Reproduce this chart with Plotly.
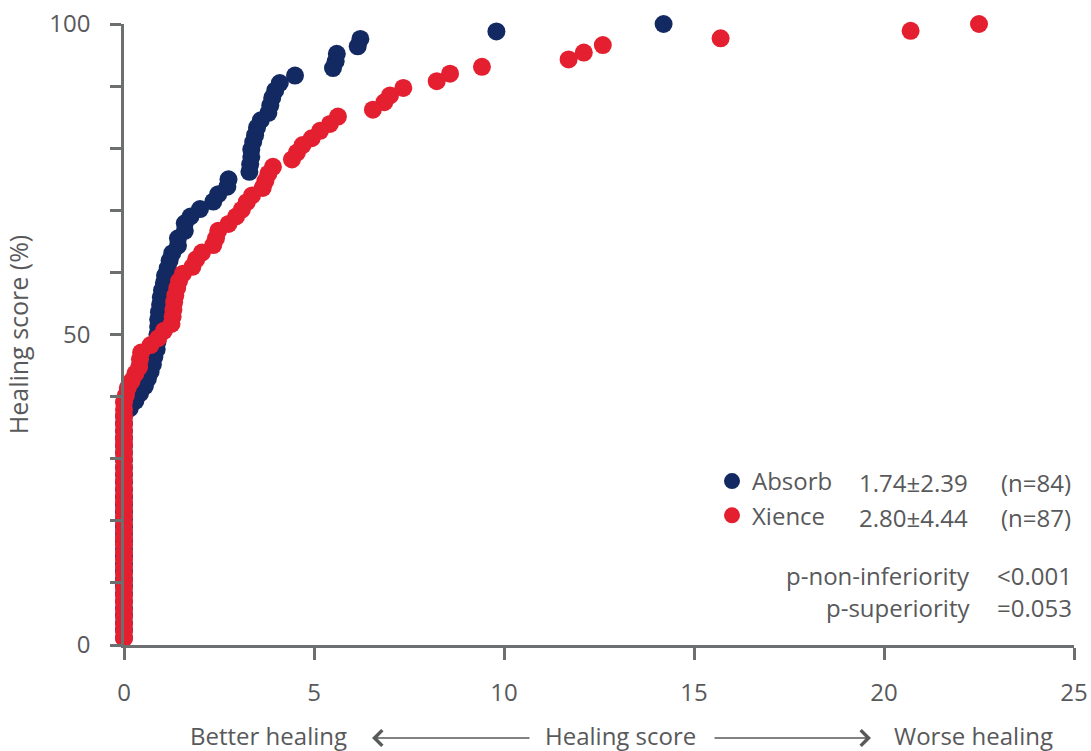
import plotly.graph_objects as go

# ---- data (rank order from the top of each curve) ----
absorb_x = [14.2, 9.8, 6.22, 6.15, 5.6, 5.57, 5.5, 4.5, 4.1, 3.98,
            3.9, 3.85, 3.8, 3.6, 3.5, 3.45, 3.4, 3.35, 3.35, 3.32,
            3.3, 2.75, 2.72, 2.48, 2.35, 2.0, 1.75, 1.6, 1.6, 1.42,
            1.42, 1.27, 1.2, 1.15, 1.08, 1.05, 1.0, 0.97, 0.95, 0.92,
            0.9, 0.9, 0.88, 0.88, 0.86, 0.8, 0.76, 0.7, 0.63, 0.55,
            0.42, 0.3, 0.15, 0, 0, 0, 0, 0, 0, 0,
            0, 0, 0, 0, 0, 0, 0, 0, 0, 0,
            0, 0, 0, 0, 0, 0, 0, 0, 0, 0,
            0, 0, 0, 0]
absorb_y = [100.0, 98.8, 97.6, 96.4, 95.2, 94.0, 92.9, 91.7, 90.5, 89.3,
            88.1, 86.9, 85.7, 84.5, 83.3, 82.1, 81.0, 79.8, 78.6, 77.4,
            76.2, 75.0, 73.8, 72.6, 71.4, 70.2, 69.0, 67.9, 66.7, 65.5,
            64.3, 63.1, 61.9, 60.7, 59.5, 58.3, 57.1, 56.0, 54.8, 53.6,
            52.4, 51.2, 50.0, 48.8, 47.6, 46.4, 45.2, 44.0, 42.9, 41.7,
            40.5, 39.3, 38.1, 36.9, 35.7, 34.5, 33.3, 32.1, 31.0, 29.8,
            28.6, 27.4, 26.2, 25.0, 23.8, 22.6, 21.4, 20.2, 19.0, 17.9,
            16.7, 15.5, 14.3, 13.1, 11.9, 10.7, 9.5, 8.3, 7.1, 6.0,
            4.8, 3.6, 2.4, 1.2]

xience_x = [22.5, 20.7, 15.7, 12.6, 12.1, 11.7, 9.42, 8.58, 8.23, 7.35,
            7.0, 6.85, 6.55, 5.63, 5.42, 5.16, 4.94, 4.7, 4.55, 4.42,
            3.92, 3.8, 3.72, 3.65, 3.37, 3.23, 3.1, 2.95, 2.75, 2.48,
            2.42, 2.35, 2.05, 1.9, 1.8, 1.55, 1.45, 1.4, 1.35, 1.32,
            1.3, 1.28, 1.25, 1.05, 0.9, 0.7, 0.45, 0.42, 0.4, 0.3,
            0.2, 0.1, 0.05, 0, 0, 0, 0, 0, 0, 0,
            0, 0, 0, 0, 0, 0, 0, 0, 0, 0,
            0, 0, 0, 0, 0, 0, 0, 0, 0, 0,
            0, 0, 0, 0, 0, 0, 0]
xience_y = [100.0, 98.9, 97.7, 96.6, 95.4, 94.3, 93.1, 92.0, 90.8, 89.7,
            88.5, 87.4, 86.2, 85.1, 83.9, 82.8, 81.6, 80.5, 79.3, 78.2,
            77.0, 75.9, 74.7, 73.6, 72.4, 71.3, 70.1, 69.0, 67.8, 66.7,
            65.5, 64.4, 63.2, 62.1, 60.9, 59.8, 58.6, 57.5, 56.3, 55.2,
            54.0, 52.9, 51.7, 50.6, 49.4, 48.3, 47.1, 46.0, 44.8, 43.7,
            42.5, 41.4, 40.2, 39.1, 37.9, 36.8, 35.6, 34.5, 33.3, 32.2,
            31.0, 29.9, 28.7, 27.6, 26.4, 25.3, 24.1, 23.0, 21.8, 20.7,
            19.5, 18.4, 17.2, 16.1, 14.9, 13.8, 12.6, 11.5, 10.3, 9.2,
            8.0, 6.9, 5.7, 4.6, 3.4, 2.3, 1.1]

series_names = ["Absorb", "Xience"]
series_stats = ["1.74\u00b12.39", "2.80\u00b14.44"]
series_n = ["(n=84)", "(n=87)"]
p_labels = ["p-non-inferiority", "p-superiority"]
p_values = ["<0.001", "=0.053"]

x_tickvals = [0, 5, 10, 15, 20, 25]
y_tickvals = [0, 10, 20, 30, 40, 50, 60, 70, 80, 90, 100]
y_ticktext = ["0", "", "", "", "", "50", "", "", "", "", "100"]

NAVY = "#122962"
RED = "#E41F30"
GREY = "#58595b"
AXIS = "#6d6e70"
FONT = "Open Sans"
FS = 24

W, H = 1091, 751
L, R, T, B = 124, 17, 24, 106
PW, PH = W - L - R, H - T - B


def px(xp):
    return (xp - L) / PW


def py(yp):
    return (H - B - yp) / PH


fig = go.Figure()
fig.add_trace(go.Scatter(x=absorb_x, y=absorb_y, mode="markers", name=series_names[0],
                         marker=dict(color=NAVY, size=18), cliponaxis=False))
fig.add_trace(go.Scatter(x=xience_x, y=xience_y, mode="markers", name=series_names[1],
                         marker=dict(color=RED, size=18), cliponaxis=False))

annotations = []
row_y = [483, 517]
for i in range(2):
    annotations.append(dict(xref="paper", yref="paper", x=px(913), y=py(row_y[i]),
                            text=series_stats[i], showarrow=False, xanchor="center",
                            yanchor="middle", font=dict(size=FS, color=GREY, family=FONT)))
    annotations.append(dict(xref="paper", yref="paper", x=px(1073), y=py(row_y[i]),
                            text=series_n[i], showarrow=False, xanchor="right",
                            yanchor="middle", font=dict(size=FS, color=GREY, family=FONT)))
p_y = [575, 607]
for i in range(2):
    annotations.append(dict(xref="paper", yref="paper", x=px(972), y=py(p_y[i]),
                            text=p_labels[i], showarrow=False, xanchor="right",
                            yanchor="middle", font=dict(size=FS, color=GREY, family=FONT)))
    annotations.append(dict(xref="paper", yref="paper", x=px(1074), y=py(p_y[i]),
                            text=p_values[i], showarrow=False, xanchor="right",
                            yanchor="middle", font=dict(size=FS, color=GREY, family=FONT)))

# bottom direction labels
bot_y = py(735)
for txt, cx in [("Better healing", 268), ("Healing score", 620), ("Worse healing", 973)]:
    annotations.append(dict(xref="paper", yref="paper", x=px(cx), y=bot_y, text=txt,
                            showarrow=False, xanchor="center", yanchor="middle",
                            font=dict(size=24, color=GREY, family=FONT)))
arrow_y = py(738)
annotations.append(dict(xref="paper", yref="paper", x=px(372), y=arrow_y, text="",
                        showarrow=True, ax=159, ay=0, arrowhead=4, arrowsize=1.9,
                        arrowwidth=1.6, arrowcolor=GREY))
annotations.append(dict(xref="paper", yref="paper", x=px(871), y=arrow_y, text="",
                        showarrow=True, ax=-158, ay=0, arrowhead=4, arrowsize=1.9,
                        arrowwidth=1.6, arrowcolor=GREY))

fig.update_layout(
    width=W, height=H,
    margin=dict(l=L, r=R, t=T, b=B, autoexpand=False),
    plot_bgcolor="white", paper_bgcolor="white",
    font=dict(family=FONT, color=GREY, size=FS),
    showlegend=True,
    legend=dict(x=px(712), y=py(459), xanchor="left", yanchor="top",
                font=dict(size=FS, color=GREY, family=FONT),
                bgcolor="rgba(0,0,0,0)", itemwidth=30, tracegroupgap=0),
    annotations=annotations,
    xaxis=dict(range=[0, 25], tickvals=x_tickvals, showgrid=False, zeroline=False,
               showline=True, linecolor=AXIS, linewidth=2.5,
               ticks="outside", ticklen=12, tickwidth=2.5, tickcolor=AXIS,
               ticklabelstandoff=12, tickfont=dict(size=FS, color=GREY)),
    yaxis=dict(range=[0, 100], tickvals=y_tickvals, ticktext=y_ticktext,
               showgrid=False, zeroline=False,
               showline=True, linecolor=AXIS, linewidth=2.5,
               ticks="outside", ticklen=11, tickwidth=2.5, tickcolor=AXIS,
               ticklabelstandoff=15, tickfont=dict(size=FS, color=GREY),
               title=dict(text="Healing score (%)", font=dict(size=25, color=GREY),
                          standoff=14)),
)

fig.write_html("out.html", config={"displayModeBar": False},
               post_script="document.body.style.margin='0px';")
